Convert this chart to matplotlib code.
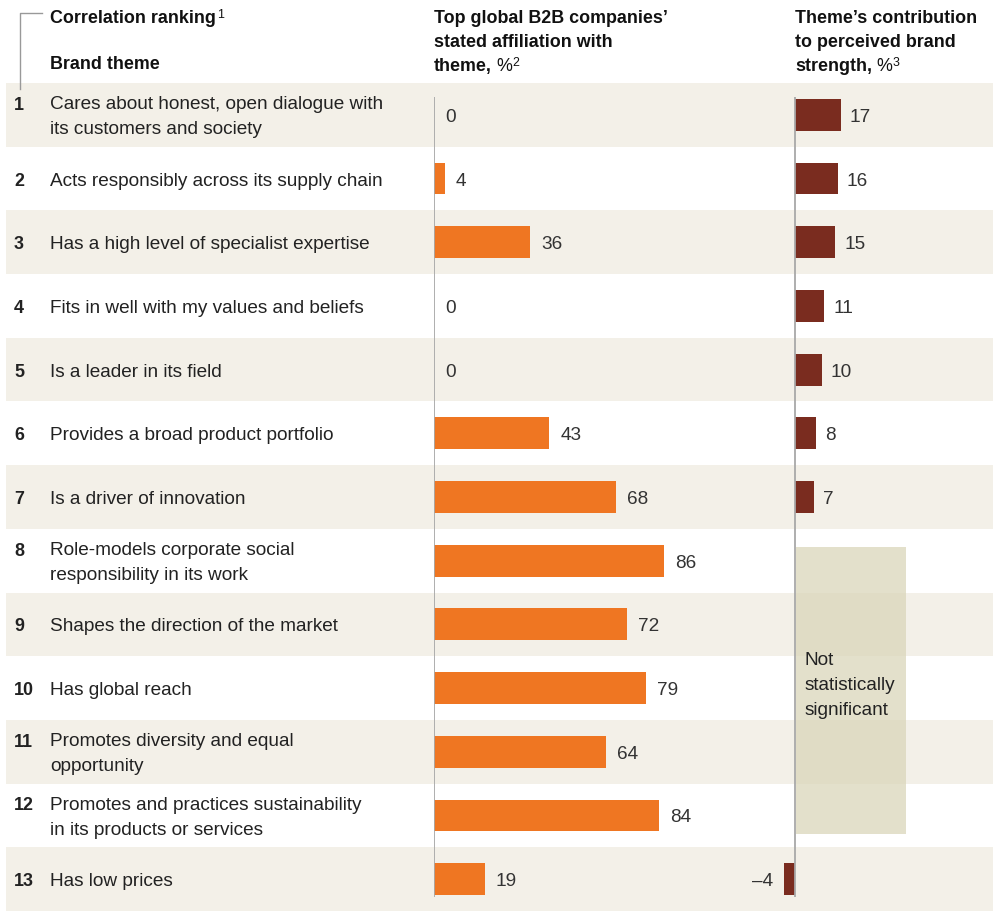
import matplotlib
matplotlib.use("Agg")
import matplotlib.pyplot as plt
from matplotlib.patches import Rectangle
from matplotlib.lines import Line2D
from matplotlib.text import Annotation

plt.rcParams['font.family'] = ['Liberation Sans', 'DejaVu Sans']

# data
ranks = list(range(1, 14))
themes = [
    "Cares about honest, open dialogue with\nits customers and society",
    "Acts responsibly across its supply chain",
    "Has a high level of specialist expertise",
    "Fits in well with my values and beliefs",
    "Is a leader in its field",
    "Provides a broad product portfolio",
    "Is a driver of innovation",
    "Role-models corporate social\nresponsibility in its work",
    "Shapes the direction of the market",
    "Has global reach",
    "Promotes diversity and equal\nopportunity",
    "Promotes and practices sustainability\nin its products or services",
    "Has low prices",
]
affiliation = [0, 4, 36, 0, 0, 43, 68, 86, 72, 79, 64, 84, 19]
contribution = [17, 16, 15, 11, 10, 8, 7, None, None, None, None, None, -4]
not_significant = [8, 12]  # ranks covered by the grey box

W, H = 993, 912
TOP = 84
n = len(ranks)
rowh = (H - TOP) / n
scale = 2.68  # px per percentage point

FS = 13.7
HFS = 12.9
LS = 1.62
TXT = '#222222'
NUM = '#333333'
STRIPE = '#F3F0E8'
ORANGE = '#EF7622'
DARKRED = '#7A2C1F'
AXIS = '#A8A8A8'


def fx(px):
    return px / W


def fy(py):
    return 1 - py / H


fig = plt.figure(figsize=(W / 100, H / 100), dpi=100)
area_h = (H - TOP) / H
dy = 1.5 / rowh  # nudge text down a touch

# background: stripes + row labels
bg = fig.add_axes([0, 0, 1, area_h])
bg.set_xlim(0, W)
bg.set_ylim(n - 0.5, -0.5)
bg.axis('off')
for i in range(0, n, 2):
    bg.add_patch(Rectangle((6, i - 0.5), W - 6, 1, color=STRIPE, lw=0, zorder=0))

half_line = 12 / rowh
for i, (r, t) in enumerate(zip(ranks, themes)):
    two = '\n' in t
    bg.text(50, i + dy, t, va='center', ha='left', fontsize=FS, color=TXT,
            linespacing=LS)
    bg.text(14, (i - half_line if two else i) + dy, str(r), va='center',
            ha='left', fontsize=HFS, fontweight='bold', color=TXT)

ypos = list(range(n))

# middle column: affiliation
x0m = 434
ax_m = fig.add_axes([fx(x0m), 0, fx(300), area_h])
ax_m.set_xlim(0, 300 / scale)
ax_m.set_ylim(n - 0.5, -0.5)
ax_m.axis('off')
ax_m.patch.set_alpha(0)
ax_m.barh(ypos, affiliation, height=0.5, color=ORANGE, lw=0)
ax_m.plot([0, 0], [-0.28, n - 1 + 0.28], color=AXIS, lw=1.3, solid_capstyle='butt')
for i, v in enumerate(affiliation):
    ax_m.text(v + 11 / scale, i + dy, str(v), va='center', ha='left',
              fontsize=FS, color=NUM)

# right column: contribution
x0r = 795
left_px = 740
ax_r = fig.add_axes([fx(left_px), 0, fx(W - left_px), area_h])
ax_r.set_xlim((left_px - x0r) / scale, (W - x0r) / scale)
ax_r.set_ylim(n - 0.5, -0.5)
ax_r.axis('off')
ax_r.patch.set_alpha(0)
for i, v in enumerate(contribution):
    if v is None:
        continue
    ax_r.barh(i, v, height=0.5, color=DARKRED, lw=0)
    if v >= 0:
        ax_r.text(v + 9 / scale, i + dy, str(v), va='center', ha='left',
                  fontsize=FS, color=NUM)
    else:
        ax_r.text(v - 11 / scale, i + dy, '\u2013' + str(abs(v)), va='center',
                  ha='right', fontsize=FS, color=NUM)

r0, r1 = not_significant[0] - 1, not_significant[1] - 1
ax_r.add_patch(Rectangle((0.4, r0 - 0.22), 110 / scale, (r1 - r0) + 0.51,
                         facecolor='#D9D5B8', alpha=0.72, lw=0, zorder=1))
ax_r.text(10 / scale, (r0 + r1) / 2 - 0.08 + dy, "Not\nstatistically\nsignificant",
          va='center', ha='left', fontsize=FS, color=TXT, linespacing=LS,
          zorder=3)
ax_r.plot([0, 0], [-0.28, n - 1 + 0.28], color=AXIS, lw=1.3,
          solid_capstyle='butt', zorder=4)

# headers
bracket = Line2D([fx(42), fx(20), fx(20)], [fy(14), fy(14), fy(90)],
                 color='#999999', lw=1, transform=fig.transFigure)
fig.add_artist(bracket)


def header(x, baseline, bold, rest=None, sup=None):
    t = fig.text(fx(x), fy(baseline), bold, fontsize=HFS, fontweight='bold',
                 color='#111111', va='baseline', ha='left')
    last = t
    if rest:
        last = fig.add_artist(Annotation(
            rest, xy=(1, 0), xycoords=t, xytext=(3, 0),
            textcoords='offset points', va='bottom', ha='left',
            fontsize=HFS, color='#111111'))
    if sup:
        fig.add_artist(Annotation(
            sup, xy=(1, 1), xycoords=last, xytext=(0.5, 0.5),
            textcoords='offset points', va='top', ha='left',
            fontsize=HFS - 4, color='#111111'))
    return t


header(50, 23, "Correlation ranking", sup="1")
header(50, 69, "Brand theme")

header(434, 23, "Top global B2B companies\u2019")
header(434, 47, "stated affiliation with")
header(434, 71, "theme,", rest="%", sup="2")

header(795, 23, "Theme\u2019s contribution")
header(795, 47, "to perceived brand")
header(795, 71, "strength,", rest="%", sup="3")

fig.savefig("out.png", dpi=100)
